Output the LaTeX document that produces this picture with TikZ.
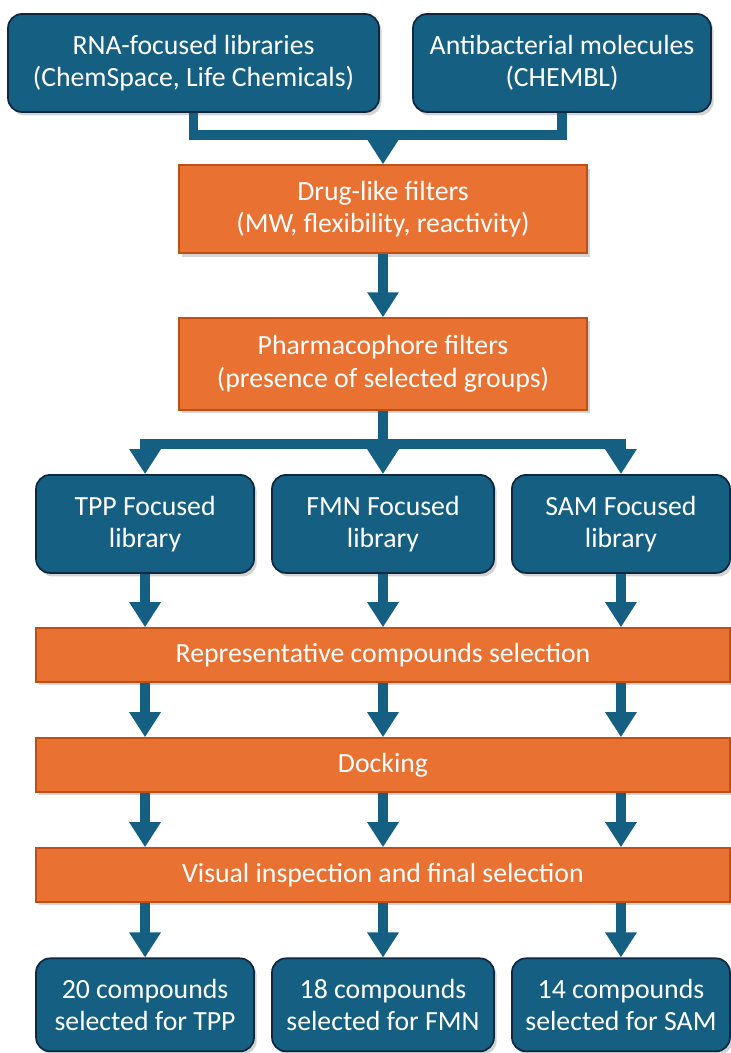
\documentclass[tikz,border=0pt]{standalone}
\usepackage{fontspec}
\setmainfont{Carlito}
\usepackage{xcolor}
\usetikzlibrary{arrows.meta,positioning,shadows}
\definecolor{tealblue}{HTML}{156082}
\definecolor{darkblue}{HTML}{0E2841}
\definecolor{orangefill}{HTML}{E97132}
\definecolor{orangeline}{HTML}{C04F15}
\tikzset{%
	libbox/.style    = {draw=darkblue, line width=1pt, fill=tealblue, rounded corners=0.28cm, text=white, align=center, minimum height=1.96cm, font=\fontsize{15.8}{18.5}\selectfont, drop shadow={shadow xshift=1.5pt, shadow yshift=-2pt, opacity=0.35}}, % Library
	filterbox/.style = {draw=orangeline, line width=0.8pt, fill=orangefill, text=white, align=center, font=\fontsize{15.8}{18.5}\selectfont, drop shadow={shadow xshift=1.5pt, shadow yshift=-2pt, opacity=0.35}}, % Filter
	stepbar/.style   = {filterbox, minimum width=13.88cm, minimum height=1.08cm}, % Full width step
	flow/.style      = {draw=tealblue, line width=0.19cm, line join=miter},
	arrow/.style     = {flow, -{Triangle[width=0.6cm,length=0.5cm]}},
}
\begin{document}
\begin{tikzpicture}[x=0.02cm,y=-0.02cm]
	\useasboundingbox (0,0) rectangle (730,1053);
	\node [libbox, minimum width=7.42cm] (rna) at (193.5,63) {RNA-focused libraries\\(ChemSpace, Life Chemicals)};
	\node [libbox, minimum width=5.96cm] (anti) at (562,63) {Antibacterial molecules\\(CHEMBL)};
	\node [filterbox, minimum width=8.16cm, minimum height=1.76cm] (drug) at (383,209) {Drug-like filters\\(MW, flexibility, reactivity)};
	\node [filterbox, minimum width=8.16cm, minimum height=1.84cm] (pharm) [below of=drug,node distance=3.1cm] {Pharmacophore filters\\(presence of selected groups)};
	\node [libbox, minimum width=4.44cm] (fmn) [below of=pharm,node distance=3.2cm] {FMN Focused\\library};
	\node [libbox, minimum width=4.36cm] (tpp) [left of=fmn,node distance=4.76cm] {TPP Focused\\library};
	\node [libbox, minimum width=4.36cm] (sam) [right of=fmn,node distance=4.76cm] {SAM Focused\\library};
	\node [stepbar] (rep) [below of=fmn,node distance=2.62cm] {Representative compounds selection};
	\node [stepbar] (dock) [below of=rep,node distance=2.2cm] {Docking};
	\node [stepbar] (vis) [below of=dock,node distance=2.2cm] {Visual inspection and final selection};
	\node [libbox, minimum width=4.44cm, minimum height=1.86cm] (fmnout) [below of=vis,node distance=2.6cm] {18 compounds\\selected for FMN};
	\node [libbox, minimum width=4.36cm, minimum height=1.86cm] (tppout) [left of=fmnout,node distance=4.76cm] {20 compounds\\selected for TPP};
	\node [libbox, minimum width=4.36cm, minimum height=1.86cm] (samout) [right of=fmnout,node distance=4.76cm] {14 compounds\\selected for SAM};
	\coordinate (merge) at (383,135);
	\coordinate (split) at (383,444);

	\draw[flow] (rna.south) |- (merge) -| (anti.south);
	\draw[arrow] (merge) -- (drug.north);
	\draw[arrow] (drug.south) -- (pharm.north);
	\draw[flow] (pharm.south) -- (split);
	\draw[arrow] (split) -| (tpp.north);
	\draw[arrow] (split) -- (fmn.north);
	\draw[arrow] (split) -| (sam.north);
	\foreach \c/\o in {tpp/tppout,fmn/fmnout,sam/samout} {
		\draw[arrow] (\c.south) -- (rep.north -| \c);
		\draw[arrow] (rep.south -| \c) -- (dock.north -| \c);
		\draw[arrow] (dock.south -| \c) -- (vis.north -| \c);
		\draw[arrow] (vis.south -| \c) -- (\o.north);
	}
\end{tikzpicture}
\end{document}
